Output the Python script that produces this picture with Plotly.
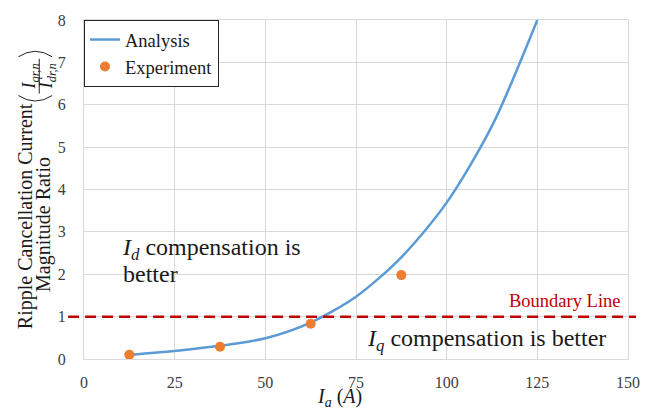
import plotly.graph_objects as go

# Analysis curve: ripple current ratio vs. phase current amplitude
analysis_x = [12.5, 25, 37.5, 50, 62.5, 75, 87.5, 100, 112.5, 125]
analysis_y = [0.10, 0.19, 0.31, 0.49, 0.86, 1.47, 2.40, 3.69, 5.50, 8.00]

# Measured points
exp_x = [12.5, 37.5, 62.5, 87.5]
exp_y = [0.10, 0.29, 0.83, 1.98]

boundary_value = 1

x_ticks = [0, 25, 50, 75, 100, 125, 150]
y_ticks = [0, 1, 2, 3, 4, 5, 6, 7, 8]

W, H = 652, 409
ML, MR, MT, MB = 84, 21, 18, 50
PW, PH = W - ML - MR, H - MT - MB

SERIF = "Liberation Serif"


def px_x(p):
    return (p - ML) / PW


def px_y(p):
    return (H - MB - p) / PH


fig = go.Figure()

fig.add_trace(go.Scatter(
    x=analysis_x, y=analysis_y, mode="lines", name="Analysis",
    line=dict(color="#5B9BD5", width=2.5, shape="spline", smoothing=0.8),
))
fig.add_trace(go.Scatter(
    x=exp_x, y=exp_y, mode="markers", name="Experiment",
    marker=dict(color="#ED7D31", size=10),
))

shapes = [
    # boundary line at ratio = 1
    dict(type="line", xref="paper", yref="y",
         x0=px_x(68), x1=px_x(639), y0=boundary_value, y1=boundary_value,
         line=dict(color="#C00000", width=2.5, dash="11px,6px"), layer="above"),
    # fraction bar of the y-axis title
    dict(type="line", xref="paper", yref="paper",
         x0=px_x(39), x1=px_x(39), y0=px_y(57), y1=px_y(92),
         line=dict(color="#222", width=1)),
    # parentheses around the fraction
    dict(type="path", xref="paper", yref="paper",
         path=f"M {px_x(18)},{px_y(94)} Q {px_x(35)},{px_y(105)} {px_x(52)},{px_y(94)}",
         line=dict(color="#222", width=1)),
    dict(type="path", xref="paper", yref="paper",
         path=f"M {px_x(18)},{px_y(55)} Q {px_x(35)},{px_y(44)} {px_x(52)},{px_y(55)}",
         line=dict(color="#222", width=1)),
]

TXT = "#1a1a1a"
annotations = [
    dict(text="Ripple Cancellation Current", x=px_x(26), y=px_y(215),
         textangle=-90, font=dict(size=20, color=TXT, family=SERIF)),
    dict(text="Magnitude Ratio", x=px_x(44), y=px_y(224),
         textangle=-90, font=dict(size=20, color=TXT, family=SERIF)),
    dict(text="<i>I</i><sub><i>qr,n</i></sub>", x=px_x(30), y=px_y(74.5),
         textangle=-90, font=dict(size=18, color=TXT, family=SERIF)),
    dict(text="<i>I</i><sub><i>dr,n</i></sub>", x=px_x(47), y=px_y(74.5),
         textangle=-90, font=dict(size=18, color=TXT, family=SERIF)),
    dict(text="<i>I</i><sub><i>a</i></sub> (<i>A</i>)", x=px_x(341), y=px_y(398),
         font=dict(size=20, color=TXT, family=SERIF)),
    dict(text="<i>I</i><sub><i>d</i></sub> compensation is", x=px_x(120), y=px_y(248),
         xanchor="left", font=dict(size=24, color=TXT, family=SERIF)),
    dict(text="better", x=px_x(121), y=px_y(273),
         xanchor="left", font=dict(size=24, color=TXT, family=SERIF)),
    dict(text="<i>I</i><sub><i>q</i></sub> compensation is better", x=px_x(367), y=px_y(340),
         xanchor="left", font=dict(size=24, color=TXT, family=SERIF)),
    dict(text="Boundary Line", x=px_x(568), y=px_y(301),
         font=dict(size=18.5, color="#C00000", family=SERIF)),
]
for a in annotations:
    a.setdefault("xanchor", "center")
    a.update(xref="paper", yref="paper", yanchor="middle", showarrow=False)

grid = "#d9d9d9"
fig.update_layout(
    width=W, height=H,
    margin=dict(l=ML, r=MR, t=MT, b=MB),
    paper_bgcolor="white", plot_bgcolor="white",
    font=dict(family=SERIF, color="#404040"),
    shapes=shapes, annotations=annotations,
    legend=dict(x=0, y=1, xanchor="left", yanchor="top",
                bgcolor="white", bordercolor="#262626", borderwidth=1,
                font=dict(size=18.5, color=TXT, family=SERIF),
                tracegroupgap=2),
    xaxis=dict(range=[0, 150], tickvals=x_ticks, showgrid=True, gridcolor=grid,
               gridwidth=1, zeroline=False, showline=True, linecolor=grid,
               mirror=True, ticks="", ticklabelstandoff=9,
               tickfont=dict(size=16, color="#404040", family=SERIF)),
    yaxis=dict(range=[0, 8], tickvals=y_ticks, showgrid=True, gridcolor=grid,
               gridwidth=1, zeroline=False, showline=True, linecolor=grid,
               mirror=True, ticks="", ticklabelstandoff=14,
               tickfont=dict(size=16, color="#404040", family=SERIF)),
    showlegend=True,
)

fig.write_html("out.html")
